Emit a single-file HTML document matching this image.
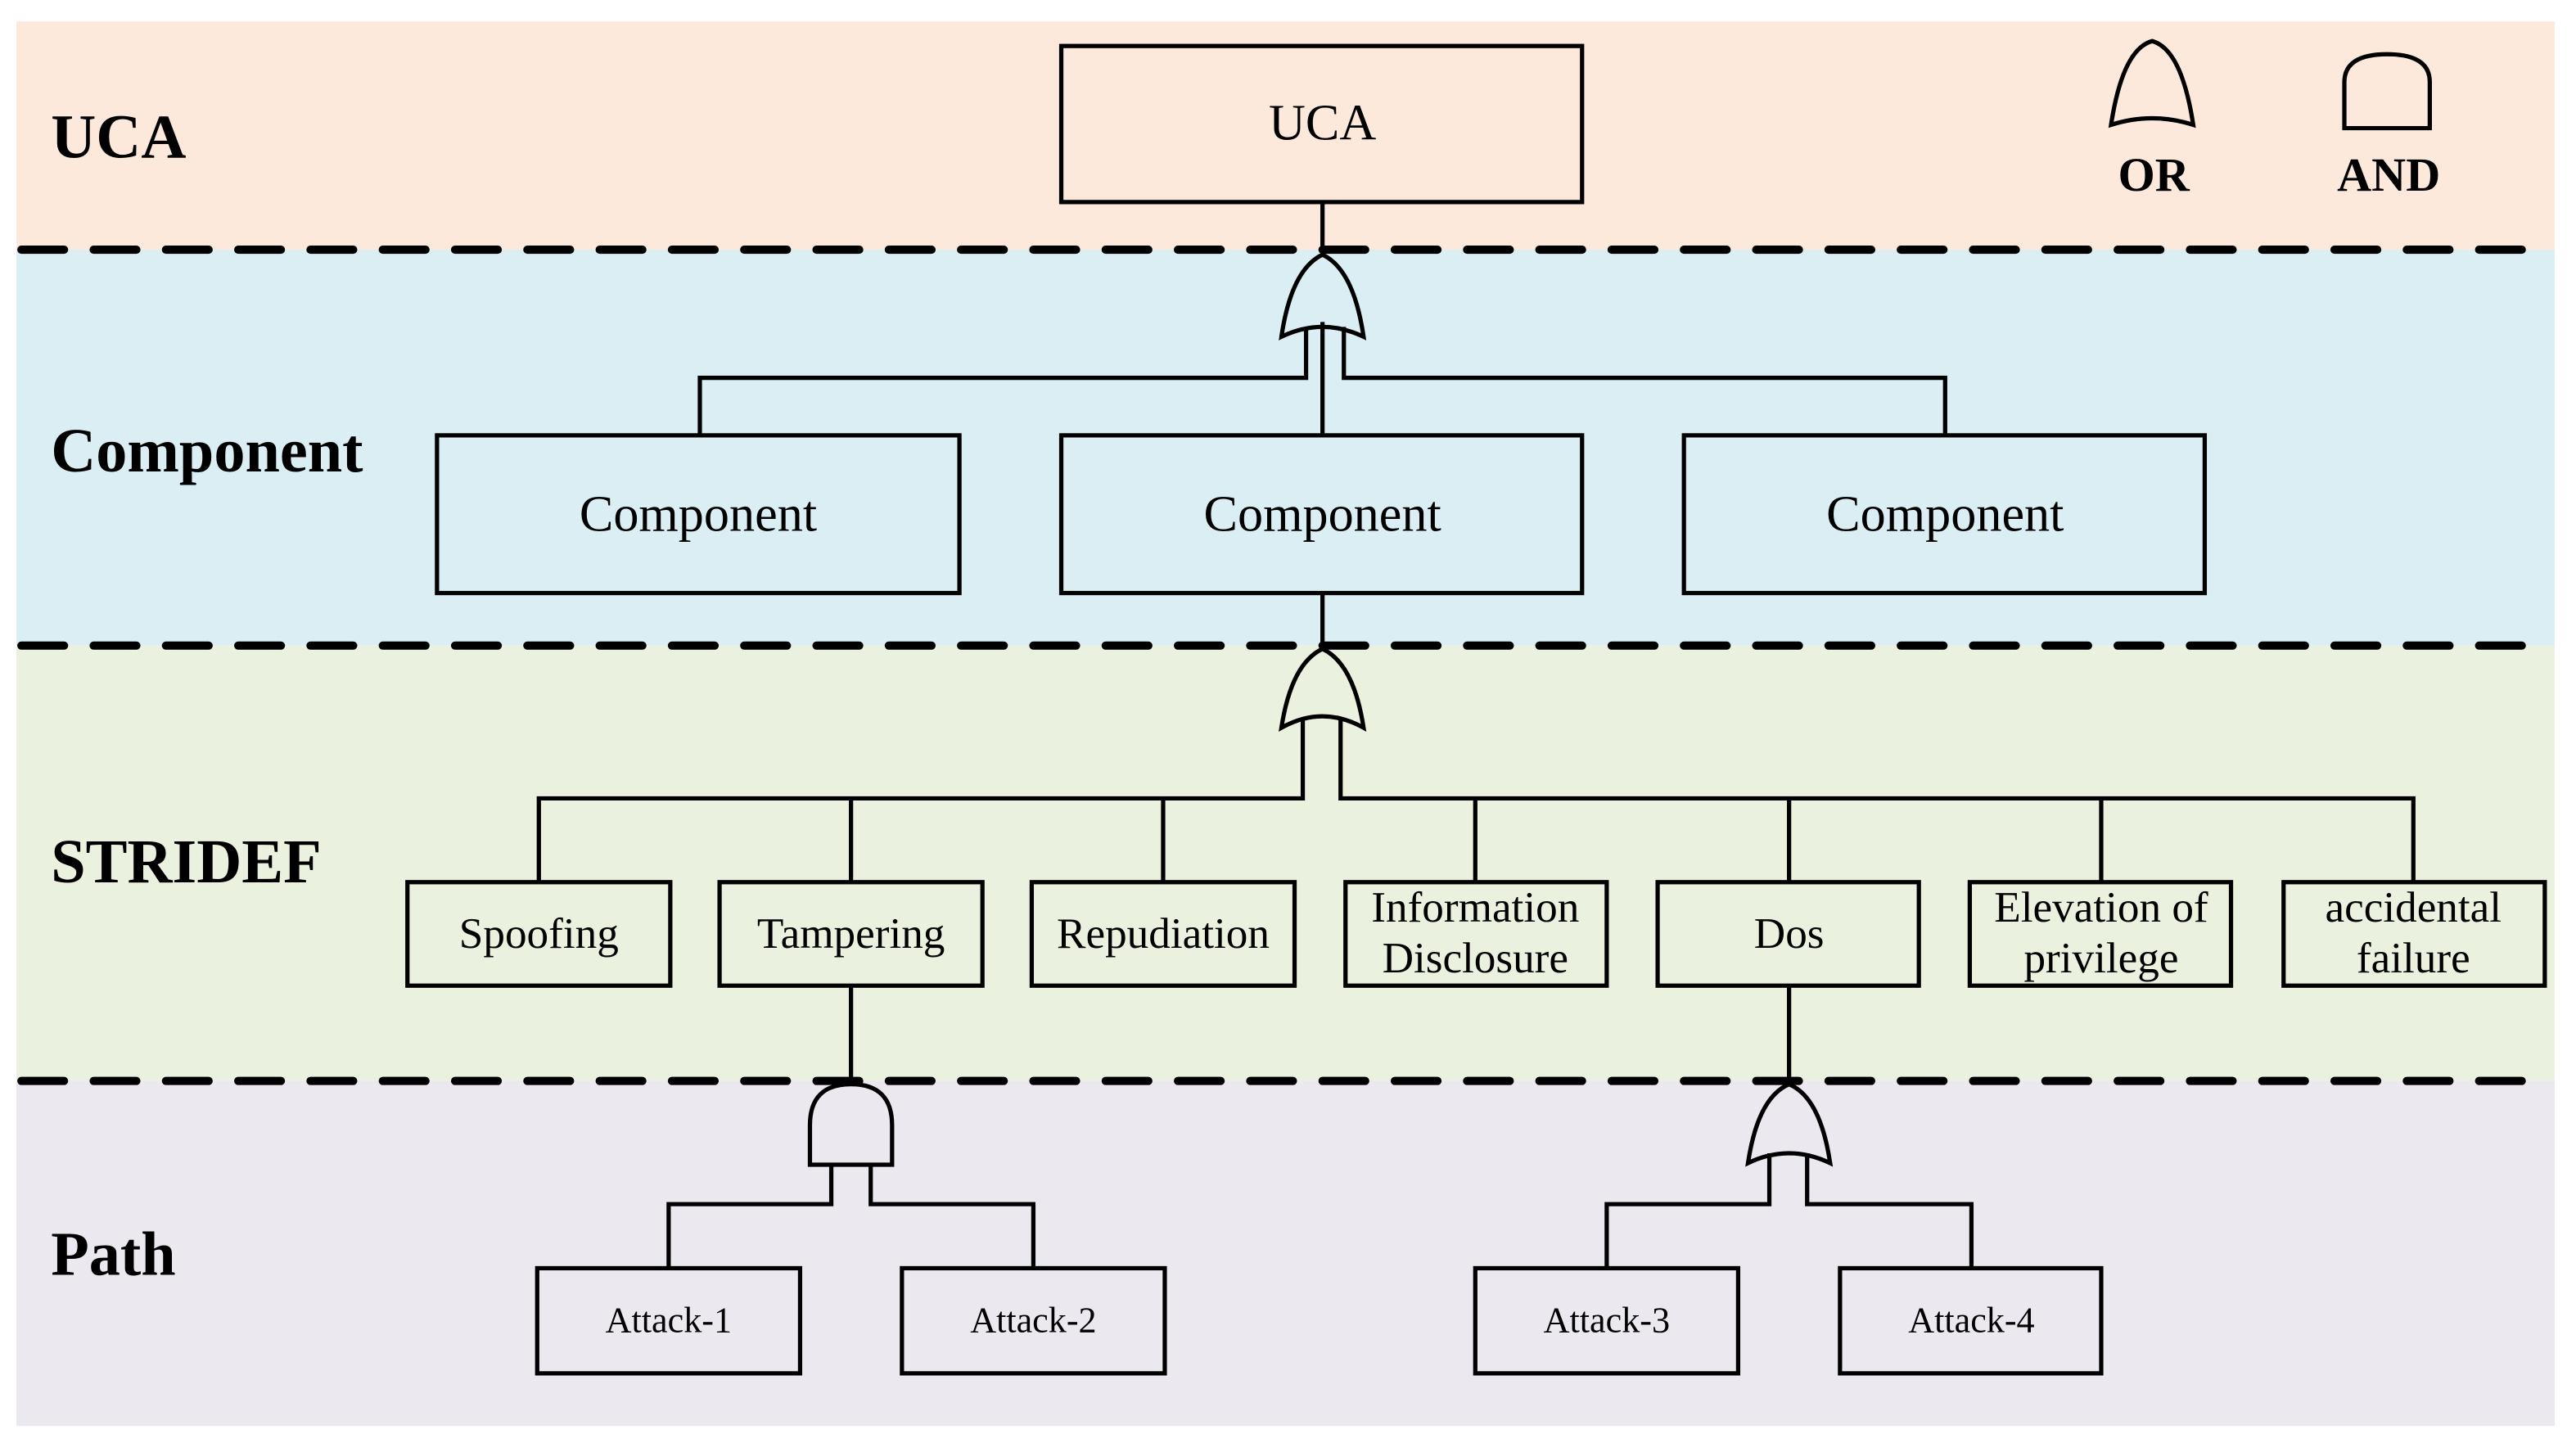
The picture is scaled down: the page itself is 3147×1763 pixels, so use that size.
<!DOCTYPE html>
<html><head><meta charset="utf-8"><style>
html,body{margin:0;padding:0;background:#fff;}
svg{display:block;}
text{font-family:"Liberation Serif",serif;fill:#000;}
</style></head><body>
<svg width="3147" height="1763" viewBox="0 0 1568 878.4" preserveAspectRatio="none" xmlns="http://www.w3.org/2000/svg">
<rect x="10" y="13" width="1545" height="139" fill="#fce9dc"/>
<rect x="10" y="152" width="1545" height="241" fill="#dbeef3"/>
<rect x="10" y="393" width="1545" height="265" fill="#ebf1df"/>
<rect x="10" y="658" width="1545" height="210" fill="#ebe8f0"/>

<g stroke="#000" stroke-width="5" stroke-dasharray="26 18" stroke-linecap="round" fill="none">
<line x1="13" y1="152" x2="1552" y2="152"/>
<line x1="13" y1="393" x2="1552" y2="393"/>
<line x1="13" y1="658" x2="1552" y2="658"/>
</g>

<g font-weight="bold" font-size="38">
<text x="31" y="96">UCA</text>
<text x="31" y="287">Component</text>
<text x="31" y="537">STRIDEF</text>
<text x="31" y="776">Path</text>
</g>

<g stroke="#000" stroke-width="2.6" fill="none">
<path d="M1285,76 Q1292,30 1310,25 Q1328,30 1335,76 Q1310,68 1285,76 Z"/>
<path d="M1427,78 L1427,50 Q1427,33 1453,33 Q1479,33 1479,50 L1479,78 Z"/>
<rect x="646" y="28" width="317" height="95"/>
<line x1="805" y1="123" x2="805" y2="155"/>
<path d="M780,205 Q786,164 805,155 Q824,164 830,205 Q805,193 780,205 Z" fill="#dbeef3"/>
<line x1="805" y1="196" x2="805" y2="265"/>
<polyline points="795,199 795,230 426,230 426,265"/>
<polyline points="818,199 818,230 1184,230 1184,265"/>
<rect x="266" y="265" width="318" height="96"/>
<rect x="646" y="265" width="317" height="96"/>
<rect x="1025" y="265" width="317" height="96"/>
<line x1="805" y1="361" x2="805" y2="395"/>
<path d="M780,443 Q786,404 805,395 Q824,404 830,443 Q805,429 780,443 Z"/>
<polyline points="793,437 793,486 328,486 328,537"/>
<polyline points="816,437 816,486 1469,486 1469,537"/>
<line x1="518" y1="486" x2="518" y2="537"/>
<line x1="708" y1="486" x2="708" y2="537"/>
<line x1="898" y1="486" x2="898" y2="537"/>
<line x1="1089" y1="486" x2="1089" y2="537"/>
<line x1="1279" y1="486" x2="1279" y2="537"/>
<rect x="248" y="537" width="160" height="63"/>
<rect x="438" y="537" width="160" height="63"/>
<rect x="628" y="537" width="160" height="63"/>
<rect x="819" y="537" width="159" height="63"/>
<rect x="1009" y="537" width="159" height="63"/>
<rect x="1199" y="537" width="159" height="63"/>
<rect x="1390" y="537" width="159" height="63"/>
<line x1="518" y1="600" x2="518" y2="660"/>
<path d="M493,709 L493,685 Q493,660 518,660 Q543,660 543,685 L543,709 Z"/>
<polyline points="506,709 506,733 407,733 407,772"/>
<polyline points="530,709 530,733 629,733 629,772"/>
<line x1="1089" y1="600" x2="1089" y2="660"/>
<path d="M1064,708 Q1070,668 1089,660 Q1108,668 1114,708 Q1089,696 1064,708 Z"/>
<polyline points="1077,702 1077,733 978,733 978,772"/>
<polyline points="1100,702 1100,733 1200,733 1200,772"/>
<rect x="327" y="772" width="160" height="64"/>
<rect x="549" y="772" width="160" height="64"/>
<rect x="898" y="772" width="160" height="64"/>
<rect x="1120" y="772" width="159" height="64"/>
</g>

<g font-weight="bold" font-size="29" text-anchor="middle">
<text x="1311" y="116">OR</text>
<text x="1454" y="116">AND</text>
</g>

<g font-size="31" text-anchor="middle">
<text x="805" y="85">UCA</text>
<text x="425" y="323">Component</text>
<text x="805" y="323">Component</text>
<text x="1184" y="323">Component</text>
</g>
<g font-size="26.5" text-anchor="middle">
<text x="328" y="577">Spoofing</text>
<text x="518" y="577">Tampering</text>
<text x="708" y="577">Repudiation</text>
<text x="898" y="561">Information</text>
<text x="898" y="592">Disclosure</text>
<text x="1089" y="577">Dos</text>
<text x="1279" y="561">Elevation of</text>
<text x="1279" y="592">privilege</text>
<text x="1469" y="561">accidental</text>
<text x="1469" y="592">failure</text>
</g>
<g font-size="22" text-anchor="middle">
<text x="407" y="811">Attack-1</text>
<text x="629" y="811">Attack-2</text>
<text x="978" y="811">Attack-3</text>
<text x="1200" y="811">Attack-4</text>
</g>
</svg>
</body></html>
